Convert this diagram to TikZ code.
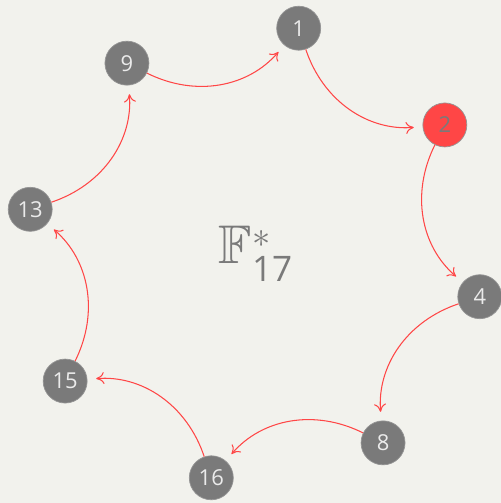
\documentclass[tikz,border=0pt]{standalone}
\usepackage{amssymb}
\usepackage{fontspec}
\setsansfont{Open Sans}
\usepackage{tikz}
\usetikzlibrary{arrows.meta}

\definecolor{paper}{HTML}{F2F2ED}
\definecolor{dotgray}{HTML}{7A7A7A}
\definecolor{hotred}{HTML}{FF4646}

\begin{document}
\begin{tikzpicture}[
    elem/.style={circle, draw=dotgray!80, line width=0.4pt, fill=dotgray, minimum size=0.88cm, inner sep=0pt, text=white!92!black, font=\sffamily\fontsize{12.5}{14}\selectfont},
    gen/.style={elem, fill=hotred, text=dotgray},
    hop/.style={-{To[length=1.6mm, width=2.4mm]}, hotred, line width=0.6pt, bend right=38, shorten >=5pt}
]

\fill[paper] (-5.10,-5.00) rectangle (4.92,5.06);
\useasboundingbox (-5.10,-5.00) rectangle (4.92,5.06);

\node[elem] (n1) at (79:4.58) {1};
\node[gen] (n2) at (34:4.58) {2};
\node[elem] (n4) at (-11:4.58) {4};
\node[elem] (n8) at (-56:4.58) {8};
\node[elem] (n16) at (-101:4.58) {16};
\node[elem] (n15) at (-146:4.58) {15};
\node[elem] (n13) at (169:4.58) {13};
\node[elem] (n9) at (124:4.58) {9};

\node[text=dotgray] (field) at (0.02,-0.02)
  {\fontsize{31}{34}\selectfont$\mathbb{F}^{*}_{\mbox{\sffamily\fontsize{20}{22}\selectfont 17}}$};

\draw[hop] (n9) to (n1);
\draw[hop] (n1) to (n2);
\draw[hop] (n2) to (n4);
\draw[hop] (n4) to (n8);
\draw[hop] (n8) to (n16);
\draw[hop] (n16) to (n15);
\draw[hop] (n15) to (n13);
\draw[hop] (n13) to (n9);
\end{tikzpicture}
\end{document}
